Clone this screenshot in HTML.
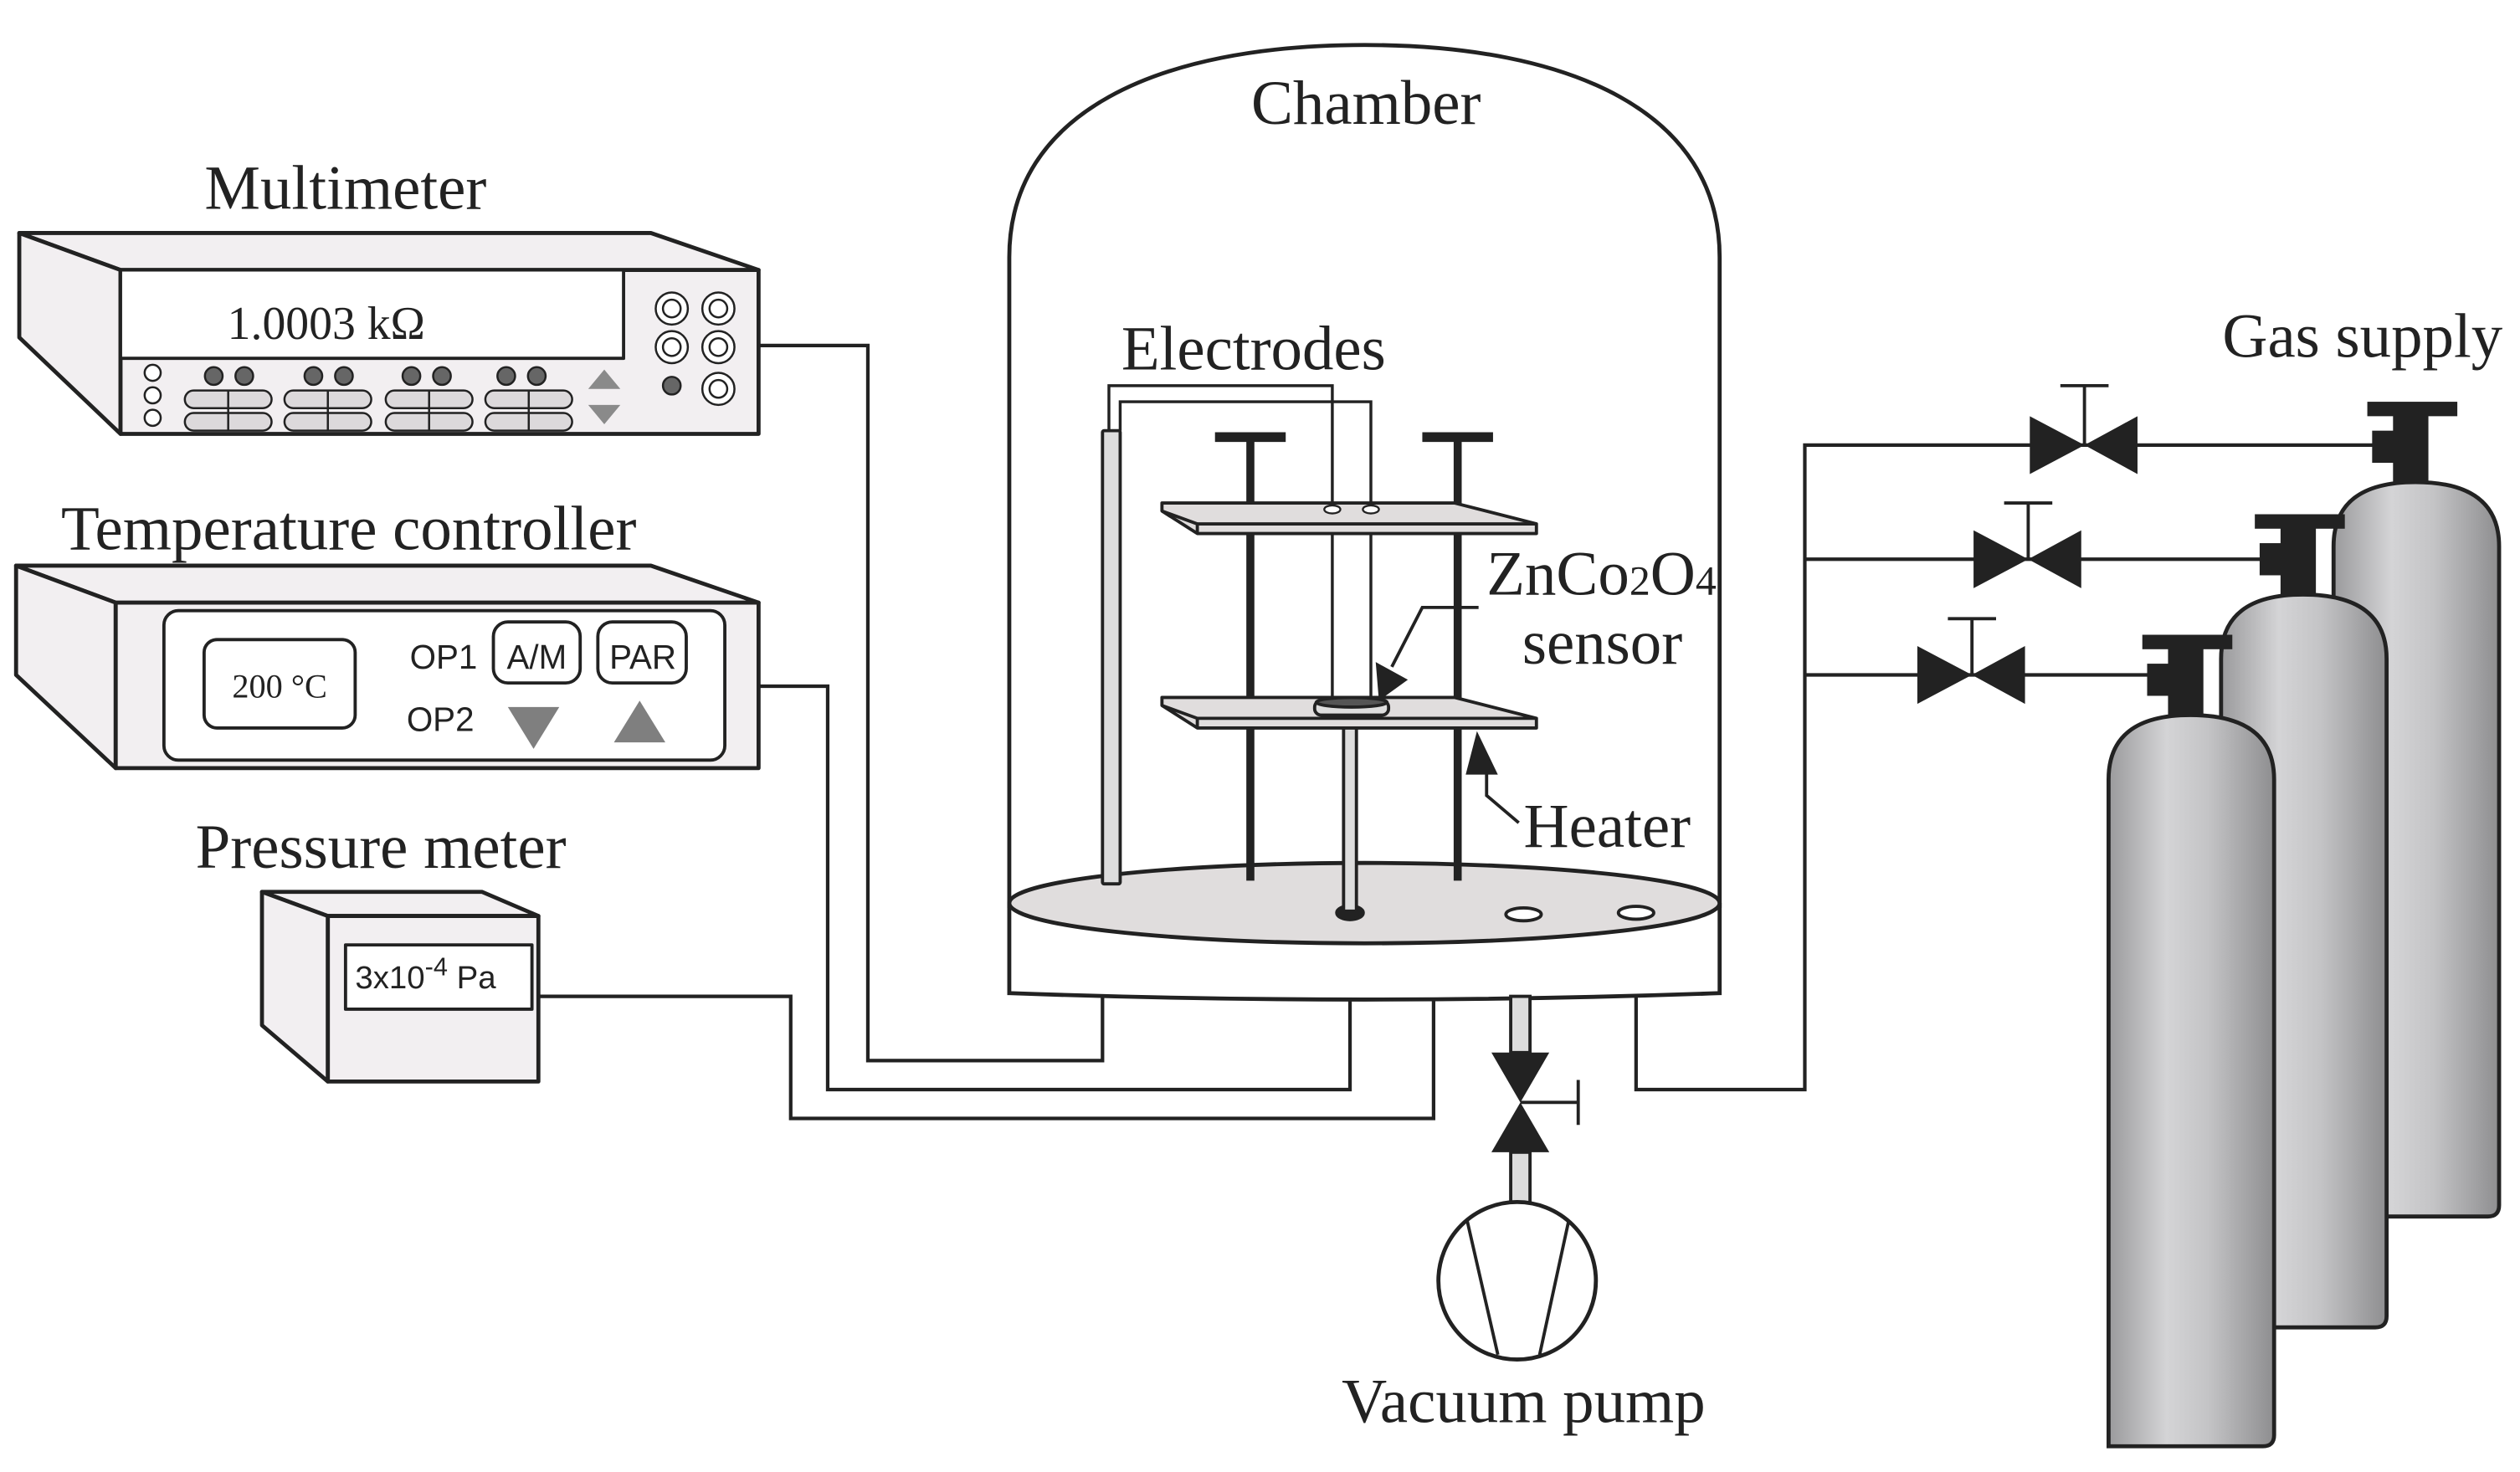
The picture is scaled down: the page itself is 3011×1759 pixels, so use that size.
<!DOCTYPE html>
<html><head><style>html,body{margin:0;padding:0;background:#fff;width:3011px;height:1759px;overflow:hidden}svg{display:block}</style></head>
<body>
<svg width="3011" height="1759" viewBox="0 0 1568 916" preserveAspectRatio="none" xmlns="http://www.w3.org/2000/svg">
<defs>
<linearGradient id="cg" x1="0" x2="1" y1="0" y2="0">
<stop offset="0" stop-color="#9a9a9c"/><stop offset="0.35" stop-color="#d4d4d6"/><stop offset="0.6" stop-color="#c4c4c6"/><stop offset="1" stop-color="#8e8e90"/>
</linearGradient>
</defs>
<g stroke="#222" stroke-width="2.2" fill="none">
<polyline points="472,215 540,215 540,660 686,660 686,620"/>
<polyline points="472,427 515,427 515,678 840,678 840,620"/>
<polyline points="335,620 492,620 492,696 892,696 892,620"/>
<polyline points="1018,620 1018,678 1123,678 1123,277 1490,277"/>
<polyline points="1123,348 1420,348"/>
<polyline points="1123,420 1350,420"/>
</g>
<!-- Multimeter -->
<g stroke="#222" stroke-width="2.5" stroke-linejoin="round">
<polygon points="12,145 405,145 472,168 75,168" fill="#f2eff1"/>
<polygon points="12,145 75,168 75,270 12,210" fill="#f2eff1"/>
<rect x="75" y="168" width="397" height="102" fill="#f2eff1"/>
<rect x="75" y="168" width="313" height="55" fill="#fff" stroke-width="2"/>
</g>
<g stroke="#222" stroke-width="1.3">
<circle cx="95" cy="232" r="5" fill="#fff"/><circle cx="95" cy="246" r="5" fill="#fff"/><circle cx="95" cy="260" r="5" fill="#fff"/>
<g fill="#666">
<circle cx="133" cy="234" r="5.5"/><circle cx="152" cy="234" r="5.5"/>
<circle cx="195" cy="234" r="5.5"/><circle cx="214" cy="234" r="5.5"/>
<circle cx="256" cy="234" r="5.5"/><circle cx="275" cy="234" r="5.5"/>
<circle cx="315" cy="234" r="5.5"/><circle cx="334" cy="234" r="5.5"/>
</g>
<g fill="#dcd9db">
<rect x="115" y="243" width="54" height="11" rx="5.5"/><rect x="115" y="257" width="54" height="11" rx="5.5"/>
<rect x="177" y="243" width="54" height="11" rx="5.5"/><rect x="177" y="257" width="54" height="11" rx="5.5"/>
<rect x="240" y="243" width="54" height="11" rx="5.5"/><rect x="240" y="257" width="54" height="11" rx="5.5"/>
<rect x="302" y="243" width="54" height="11" rx="5.5"/><rect x="302" y="257" width="54" height="11" rx="5.5"/>
</g>
<path d="M142,243v25M204,243v25M267,243v25M329,243v25"/>
<g fill="#fff"><circle cx="418" cy="192" r="10"/><circle cx="447" cy="192" r="10"/><circle cx="418" cy="216" r="10"/><circle cx="447" cy="216" r="10"/><circle cx="447" cy="242" r="10"/></g>
<g fill="none"><circle cx="418" cy="192" r="5.5"/><circle cx="447" cy="192" r="5.5"/><circle cx="418" cy="216" r="5.5"/><circle cx="447" cy="216" r="5.5"/><circle cx="447" cy="242" r="5.5"/></g>
<circle cx="418" cy="240" r="5.5" fill="#666"/>
</g>
<polygon points="366,242 386,242 376,230" fill="#8a8a8a"/>
<polygon points="366,252 386,252 376,264" fill="#8a8a8a"/>
<!-- Temperature controller -->
<g stroke="#222" stroke-width="2.5" stroke-linejoin="round">
<polygon points="10,352 405,352 472,375 72,375" fill="#f2eff1"/>
<polygon points="10,352 72,375 72,478 10,420" fill="#f2eff1"/>
<rect x="72" y="375" width="400" height="103" fill="#f2eff1"/>
<rect x="102" y="380" width="349" height="93" rx="9" fill="#fff" stroke-width="2"/>
<rect x="127" y="398" width="94" height="55" rx="8" fill="#fff" stroke-width="2"/>
<rect x="307" y="387" width="54" height="38" rx="9" fill="#fff" stroke-width="2"/>
<rect x="372" y="387" width="55" height="38" rx="9" fill="#fff" stroke-width="2"/>
</g>
<polygon points="316,440 348,440 332,466" fill="#7f7f7f"/>
<polygon points="382,462 414,462 398,436" fill="#7f7f7f"/>
<!-- Pressure meter -->
<g stroke="#222" stroke-width="2.5" stroke-linejoin="round" fill="#f2eff1">
<polygon points="163,555 300,555 335,570 204,570"/>
<polygon points="163,555 204,570 204,673 163,638"/>
<rect x="204" y="570" width="131" height="103"/>
<rect x="215" y="588" width="116" height="40" fill="#fff" stroke-width="2"/>
</g>
<!-- Chamber -->
<g stroke="#222" stroke-width="2.5">
<path d="M628,565 L628,160 C628,70 720,28 849,28 C978,28 1070,70 1070,160 L1070,565" fill="#fff"/>
<path d="M628,562 L628,618 Q849,626 1070,618 L1070,562" fill="#fff"/>
<ellipse cx="849" cy="562" rx="221" ry="25" fill="#e0dddd"/>
<ellipse cx="840" cy="568" rx="8" ry="4" fill="#222"/>
<ellipse cx="948" cy="569" rx="11" ry="4" fill="#fff" stroke-width="2"/>
<ellipse cx="1018" cy="568" rx="11" ry="4" fill="#fff" stroke-width="2"/>
</g>
<g stroke="#222" fill="none" stroke-width="1.8">
<polyline points="690,268 690,240 829,240 829,440"/>
<polyline points="697,268 697,250 853,250 853,440"/>
</g>
<rect x="686" y="268" width="11" height="282" fill="#ddd" stroke="#222" stroke-width="2" rx="1"/>
<g stroke="#222" stroke-width="5">
<path d="M778,272V548M907,272V548"/>
<path d="M756,272h44M885,272h44" stroke-width="6"/>
</g>
<g stroke="#222" stroke-width="2" fill="#e0dddd" stroke-linejoin="round">
<polygon points="723,313 905,313 956,326 956,332 745,332 723,318"/>
<polyline points="745,332 745,326 956,326" fill="none"/>
<polyline points="723,318 745,326" fill="none"/>
<polygon points="723,434 905,434 956,447 956,453 745,453 723,439"/>
<polyline points="745,453 745,447 956,447" fill="none"/>
<polyline points="723,439 745,447" fill="none"/>
<rect x="836" y="453" width="8" height="114" fill="#ddd"/>
<rect x="818" y="436" width="46" height="9" rx="4" fill="#ddd"/>
<ellipse cx="841" cy="437" rx="22" ry="3" fill="#555"/>
</g>
<g stroke="#222" stroke-width="1.2" fill="#fff"><ellipse cx="829" cy="317" rx="5" ry="2.5"/><ellipse cx="853" cy="317" rx="5" ry="2.5"/></g>
<g stroke="#222" stroke-width="2" fill="none">
<polyline points="920,378 885,378 866,415"/>
<polyline points="945,512 925,495 925,480"/>
</g>
<polygon points="858,436 856,412 876,423" fill="#222"/>
<polygon points="919,455 912,482 932,482" fill="#222"/>
<!-- Vacuum -->
<g stroke="#222" stroke-width="2">
<rect x="940" y="620" width="12" height="35" fill="#ddd"/>
<rect x="940" y="717" width="12" height="32" fill="#ddd"/>
<path d="M946,686H982M982,672V700" fill="none"/>
<circle cx="944" cy="797" r="49" fill="#fff" stroke-width="2.5"/>
<path d="M913,760L932,843M976,760L958,843" fill="none"/>
</g>
<polygon points="928,655 964,655 946,686" fill="#222"/>
<polygon points="928,717 964,717 946,686" fill="#222"/>
<!-- cylinders -->
<g stroke="#222" stroke-width="2.5">
<path d="M1452,757 V340 Q1452,300 1503,300 Q1555,300 1555,340 V750 Q1555,757 1548,757 Z" fill="url(#cg)"/>
<path d="M1382,826 V410 Q1382,370 1433,370 Q1485,370 1485,410 V819 Q1485,826 1478,826 Z" fill="url(#cg)"/>
<path d="M1312,900 V485 Q1312,445 1363,445 Q1415,445 1415,485 V893 Q1415,900 1408,900 Z" fill="url(#cg)"/>
</g>
<g fill="#222">
<rect x="1489" y="258" width="22" height="42"/><rect x="1473" y="250" width="56" height="9"/><rect x="1476" y="268" width="16" height="20"/>
<rect x="1419" y="328" width="22" height="42"/><rect x="1403" y="320" width="56" height="9"/><rect x="1406" y="338" width="16" height="20"/>
<rect x="1349" y="403" width="22" height="42"/><rect x="1333" y="395" width="56" height="9"/><rect x="1336" y="413" width="16" height="20"/>
<polygon points="1263,259 1263,295 1297,277"/><polygon points="1330,259 1330,295 1297,277"/>
<polygon points="1228,330 1228,366 1262,348"/><polygon points="1295,330 1295,366 1262,348"/>
<polygon points="1193,402 1193,438 1227,420"/><polygon points="1260,402 1260,438 1227,420"/>
</g>
<g stroke="#222" stroke-width="2">
<path d="M1297,277V240M1282,240h30"/>
<path d="M1262,348V313M1247,313h30"/>
<path d="M1227,420V385M1212,385h30"/>
</g>
<!-- Text on top -->
<g font-family="Liberation Serif, serif" fill="#222" font-size="39" text-anchor="middle">
<text x="850" y="77">Chamber</text>
<text x="215" y="130">Multimeter</text>
<text x="217" y="342" textLength="358" lengthAdjust="spacingAndGlyphs">Temperature controller</text>
<text x="237" y="540">Pressure meter</text>
<text x="780" y="230">Electrodes</text>
<text x="1470" y="222">Gas supply</text>
<text x="925" y="370" text-anchor="start">ZnCo<tspan font-size="26">2</tspan>O<tspan font-size="26">4</tspan></text>
<text x="997" y="413">sensor</text>
<text x="1000" y="527">Heater</text>
<text x="948" y="885">Vacuum pump</text>
<text x="203" y="211" font-size="29">1.0003 kΩ</text>
<text x="174" y="434" font-size="21">200 °C</text>
</g>
<g font-family="Liberation Sans, sans-serif" font-size="21" fill="#222">
<text x="255" y="416">OP1</text>
<text x="334" y="416" text-anchor="middle">A/M</text>
<text x="400" y="416" text-anchor="middle">PAR</text>
<text x="253" y="455">OP2</text>
<text x="221" y="615" font-size="20">3x10<tspan dy="-8" font-size="16">-4</tspan><tspan dy="8"> Pa</tspan></text>
</g>
</svg>
</body></html>
